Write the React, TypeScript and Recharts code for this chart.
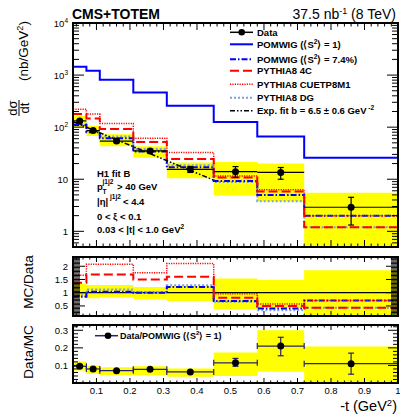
import React from 'react'
import { ComposedChart, Line, Area, Scatter, XAxis, YAxis, ErrorBar, ReferenceLine } from 'recharts'

const FONT = '"Liberation Sans", Arial, Helvetica, sans-serif'

// binning in -t (GeV^2)
const binEdges = [0.03, 0.07, 0.11, 0.21, 0.31, 0.45, 0.58, 0.72, 1.0]
const binCenters = [0.05, 0.09, 0.16, 0.26, 0.38, 0.515, 0.65, 0.86]

// dsigma/dt (nb/GeV^2)
const dataVal = [132, 86, 54, 35, 15.5, 14, 13.5, 2.9]
const dataErrLo = [8, 6, 3.5, 2.5, 2, 3.1, 3.5, 1.58]
const dataErrHi = [8, 6, 3.5, 2.5, 2, 3.5, 3.3, 1.6]
const sysLo = [100, 68, 43, 26, 10.4, 4.9, 3.8, 0.5]
const sysHi = [165, 106, 73, 43, 21, 21.5, 20, 5.5]

const pomwig1 = [1445, 1210, 813, 464, 257, 126, 66, 26]
const pomwig74 = [110, 80, 61, 34, 17, 9.3, 5.0, 2.0]
const py4c = [178, 147, 92, 52, 24.5, 10.8, 5.8, 1.2]
const pyCuet = [220, 178, 117, 61.5, 32.5, 11.6, 6.3, 2.0]
const pyDg = [116, 84, 66, 38, 18.6, 8.9, 3.8, 1.2]

const fitT = [0.03, 0.45]
const fitV = [128, 9.6]

// MC / Data
const r4c = [1.38, 1.69, 1.69, 1.5, 1.6, 0.81, 0.5, 0.43]
const rCuet = [1.66, 2.08, 2.08, 1.75, 2.1, 0.96, 0.57, 0.71]
const rPom = [0.85, 1.04, 1.04, 1.0, 1.22, 0.69, 0.4, 0.71]
const rDg = [0.9, 1.12, 1.12, 1.03, 1.28, 0.66, 0.34, 0.43]
const rBandLo = [0.85, 0.79, 0.82, 0.75, 0.69, 0.37, 0.41, 0.1]
const rBandHi = [1.35, 1.29, 1.29, 1.22, 1.25, 1.54, 1.48, 1.85]

// Data / POMWIG (<S2> = 1)
const dm = [0.095, 0.08, 0.07, 0.078, 0.063, 0.115, 0.21, 0.11]
const dmErrLo = [0.005, 0.005, 0.004, 0.004, 0.004, 0.02, 0.055, 0.06]
const dmErrHi = [0.005, 0.005, 0.004, 0.004, 0.004, 0.025, 0.05, 0.06]
const dmBandLo = [0.071, 0.053, 0.045, 0.044, 0.035, 0.04, 0.064, 0]
const dmBandHi = [0.122, 0.1, 0.089, 0.095, 0.082, 0.173, 0.3, 0.207]

// axis ticks
const xMajor = [0.1, 0.2, 0.3, 0.4, 0.5, 0.6, 0.7, 0.8, 0.9, 1.0]
const logMajor = [1, 10, 100, 1000, 10000]
const ratioMajor = [0.5, 1, 1.5, 2]
const dmMajor = [0.1, 0.2, 0.3]

const xMinor: number[] = []
for (let i = 2; i < 50; i++) {
  const v = Math.round(i * 2) / 100
  if (!xMajor.some((m) => Math.abs(m - v) < 1e-9)) xMinor.push(v)
}
const logMinor: number[] = []
for (const d of [0.1, 1, 10, 100, 1000]) {
  for (let m = 2; m <= 9; m++) {
    const v = m * d
    if (v >= 0.5 && v < 10000) logMinor.push(v)
  }
}
const ratioMinor: number[] = []
for (let i = 3; i <= 47; i++) {
  const v = i * 0.05
  if (!ratioMajor.some((m) => Math.abs(m - v) < 1e-6)) ratioMinor.push(v)
}
const dmMinor: number[] = []
for (let i = 1; i <= 16; i++) {
  const v = i * 0.02
  if (!dmMajor.some((m) => Math.abs(m - v) < 1e-6)) dmMinor.push(v)
}

const k = (i: number) => Math.min(i, 7)

const mainRows = binEdges.map((t, i) => ({
  t,
  band: [sysLo[k(i)], sysHi[k(i)]],
  pom1: pomwig1[k(i)],
  pom74: pomwig74[k(i)],
  c4: py4c[k(i)],
  cuet: pyCuet[k(i)],
  dg: pyDg[k(i)],
  fit: fitT.indexOf(t) >= 0 ? fitV[fitT.indexOf(t)] : null,
}))

const ratioRows = binEdges.map((t, i) => ({
  t,
  band: [rBandLo[k(i)], rBandHi[k(i)]],
  c4: r4c[k(i)],
  cuet: rCuet[k(i)],
  pom74: rPom[k(i)],
  dg: rDg[k(i)],
}))

const dmRows = binEdges.map((t, i) => ({
  t,
  band: [dmBandLo[k(i)], dmBandHi[k(i)]],
}))

const mainPoints = binCenters.map((t, i) => ({
  t,
  v: dataVal[i],
  ex: [t - binEdges[i], binEdges[i + 1] - t],
  ey: [dataErrLo[i], dataErrHi[i]],
}))

const dmPoints = binCenters.map((t, i) => ({
  t,
  v: dm[i],
  ex: [t - binEdges[i], binEdges[i + 1] - t],
  ey: [dmErrLo[i], dmErrHi[i]],
}))

type Side = 'left' | 'right' | 'top' | 'bottom'

function makeTick(
  side: Side,
  majors: number[],
  major: number,
  minor: number,
  label?: (v: number) => React.ReactNode
) {
  return (p: any) => {
    const v = p.payload.value
    const isMajor = majors.some((m) => Math.abs(m - v) < 1e-6)
    const len = isMajor ? major : minor
    const { x, y } = p
    let line
    if (side === 'left') line = <line x1={x} x2={x + len} y1={y} y2={y} stroke="#000" />
    else if (side === 'right') line = <line x1={x} x2={x - len} y1={y} y2={y} stroke="#000" />
    else if (side === 'bottom') line = <line x1={x} x2={x} y1={y} y2={y - len} stroke="#000" />
    else line = <line x1={x} x2={x} y1={y} y2={y + len} stroke="#000" />
    let text = null
    if (label && isMajor) {
      if (side === 'left')
        text = (
          <text x={x - 5} y={y + 3.5} textAnchor="end" fontSize={9.5} fill="#000" fontFamily={FONT}>
            {label(v)}
          </text>
        )
      else if (side === 'bottom')
        text = (
          <text x={x} y={y + 11} textAnchor="middle" fontSize={9.5} fill="#000" fontFamily={FONT}>
            {label(v)}
          </text>
        )
    }
    return (
      <g>
        {line}
        {text}
      </g>
    )
  }
}

const logLabel = (v: number) => {
  const e = Math.round(Math.log10(v))
  if (e === 0) return '1'
  if (e === 1) return '10'
  return (
    <>
      10<tspan dy={-4} fontSize={6.5}>{e}</tspan>
    </>
  )
}
const xLabel = (v: number) => (v === 1 ? '1' : v.toFixed(1))

const BLUE = '#0000ff'
const RED = '#ff0000'
const LIGHTBLUE = '#7a9fe0'
const YELLOW = '#ffff00'
const NAVY = '#23237a'

// the axes have a size of 1px (a 0px axis is not drawn), margins are reduced by it
function Axes({ yDomain, yScale, yMajor, yMinor, yLabel, yMaj, yMin, xLabels, xMaj, xMin }: any) {
  const yTicks = [...yMajor, ...yMinor]
  const xTicks = [...xMajor, ...xMinor]
  const common = {
    interval: 0 as const,
    axisLine: false,
    tickLine: false,
    tickSize: 0,
    tickMargin: 0,
    allowDataOverflow: true,
    type: 'number' as const,
  }
  return [
    <XAxis
      key="xb"
      dataKey="t"
      domain={[0.03, 1]}
      height={1}
      ticks={xTicks}
      tick={makeTick('bottom', xMajor, xMaj, xMin, xLabels ? xLabel : undefined)}
      {...common}
    />,
    <XAxis
      key="xt"
      xAxisId="top"
      orientation="top"
      dataKey="t"
      domain={[0.03, 1]}
      height={1}
      ticks={xTicks}
      tick={makeTick('top', xMajor, xMaj, xMin)}
      {...common}
    />,
    <YAxis
      key="yl"
      scale={yScale}
      domain={yDomain}
      width={1}
      ticks={yTicks}
      tick={makeTick('left', yMajor, yMaj, yMin, yLabel)}
      {...common}
    />,
    <YAxis
      key="yr"
      yAxisId="r"
      orientation="right"
      scale={yScale}
      domain={yDomain}
      width={1}
      ticks={yTicks}
      tick={makeTick('right', yMajor, yMaj, yMin)}
      {...common}
    />,
  ]
}

const dot = (r: number) => (p: any) => <circle cx={p.cx} cy={p.cy} r={r} fill="#000" />

const chartStyle: React.CSSProperties = { position: 'absolute', left: 0, top: 0 }

export default function App() {
  return (
    <div
      style={{
        position: 'fixed',
        left: 0,
        top: 0,
        width: 400,
        height: 417,
        background: '#fff',
        fontFamily: FONT,
      }}
    >
      {/* main panel */}
      <div style={chartStyle}>
        <ComposedChart
          width={400}
          height={417}
          data={mainRows}
          margin={{ top: 22, right: 1, bottom: 169, left: 72 }}
        >
          {Axes({
            yDomain: [0.5, 10000],
            yScale: 'log',
            yMajor: logMajor,
            yMinor: logMinor,
            yLabel: logLabel,
            yMaj: 11,
            yMin: 6,
            xLabels: false,
            xMaj: 7,
            xMin: 3.5,
          })}
          <Area dataKey="band" type="stepAfter" stroke="none" fill={YELLOW} fillOpacity={1} isAnimationActive={false} />
          <Line dataKey="pom1" type="stepAfter" stroke={BLUE} strokeWidth={2} dot={false} activeDot={false} isAnimationActive={false} />
          <Line dataKey="dg" type="stepAfter" stroke={LIGHTBLUE} strokeWidth={2} strokeDasharray="2 2" dot={false} activeDot={false} isAnimationActive={false} />
          <Line dataKey="pom74" type="stepAfter" stroke={BLUE} strokeWidth={2} strokeDasharray="6 2 1.5 2" dot={false} activeDot={false} isAnimationActive={false} />
          <Line dataKey="c4" type="stepAfter" stroke={RED} strokeWidth={2} strokeDasharray="9 4" dot={false} activeDot={false} isAnimationActive={false} />
          <Line dataKey="cuet" type="stepAfter" stroke={RED} strokeWidth={1.5} strokeDasharray="1.2 1.2" dot={false} activeDot={false} isAnimationActive={false} />
          <Line dataKey="fit" type="linear" connectNulls stroke="#000" strokeWidth={1.5} strokeDasharray="5 2 1.5 2 1.5 2" dot={false} activeDot={false} isAnimationActive={false} />
          <Scatter data={mainPoints} dataKey="v" shape={dot(3.5)} isAnimationActive={false}>
            <ErrorBar dataKey="ex" direction="x" width={0} stroke="#000" strokeWidth={1.2} isAnimationActive={false} />
            <ErrorBar dataKey="ey" direction="y" width={3} stroke="#000" strokeWidth={1.2} isAnimationActive={false} />
          </Scatter>
        </ComposedChart>
      </div>

      {/* MC / Data */}
      <div style={chartStyle}>
        <ComposedChart
          width={400}
          height={417}
          data={ratioRows}
          margin={{ top: 256, right: 1, bottom: 100, left: 72 }}
        >
          {Axes({
            yDomain: [0.12, 2.35],
            yScale: 'linear',
            yMajor: ratioMajor,
            yMinor: ratioMinor,
            yLabel: (v: number) => String(v),
            yMaj: 12,
            yMin: 7,
            xLabels: false,
            xMaj: 5,
            xMin: 2.5,
          })}
          <Area dataKey="band" type="stepAfter" stroke="none" fill={YELLOW} fillOpacity={1} isAnimationActive={false} />
          <ReferenceLine y={1} stroke="#000" strokeWidth={1.2} />
          <Line dataKey="dg" type="stepAfter" stroke={LIGHTBLUE} strokeWidth={2} strokeDasharray="2 2" dot={false} activeDot={false} isAnimationActive={false} />
          <Line dataKey="pom74" type="stepAfter" stroke={BLUE} strokeWidth={2} strokeDasharray="6 2 1.5 2" dot={false} activeDot={false} isAnimationActive={false} />
          <Line dataKey="c4" type="stepAfter" stroke={RED} strokeWidth={2} strokeDasharray="9 4" dot={false} activeDot={false} isAnimationActive={false} />
          <Line dataKey="cuet" type="stepAfter" stroke={RED} strokeWidth={1.5} strokeDasharray="1.2 1.2" dot={false} activeDot={false} isAnimationActive={false} />
        </ComposedChart>
      </div>

      {/* Data / MC */}
      <div style={chartStyle}>
        <ComposedChart
          width={400}
          height={417}
          data={dmRows}
          margin={{ top: 324, right: 1, bottom: 33, left: 72 }}
        >
          {Axes({
            yDomain: [0, 0.33],
            yScale: 'linear',
            yMajor: dmMajor,
            yMinor: dmMinor,
            yLabel: (v: number) => v.toFixed(1),
            yMaj: 10,
            yMin: 5,
            xLabels: true,
            xMaj: 5,
            xMin: 2.5,
          })}
          <Area dataKey="band" type="stepAfter" stroke="none" fill={YELLOW} fillOpacity={1} isAnimationActive={false} />
          <Scatter data={dmPoints} dataKey="v" shape={dot(3.5)} isAnimationActive={false}>
            <ErrorBar dataKey="ex" direction="x" width={3} stroke={NAVY} strokeWidth={1.2} isAnimationActive={false} />
            <ErrorBar dataKey="ey" direction="y" width={3} stroke={NAVY} strokeWidth={1.2} isAnimationActive={false} />
          </Scatter>
        </ComposedChart>
      </div>

      {/* frames, titles, legends */}
      <svg width={400} height={417} style={{ position: 'absolute', left: 0, top: 0, pointerEvents: 'none' }} fontFamily={FONT}>
        <rect x={73} y={23} width={325} height={224} fill="none" stroke="#000" strokeWidth={2} />
        <rect x={73} y={257} width={325} height={59} fill="none" stroke="#000" strokeWidth={2} />
        <rect x={73} y={325} width={325} height={58} fill="none" stroke="#000" strokeWidth={2} />

        <text x={72} y={19} fontSize={14} fontWeight="bold">CMS+TOTEM</text>
        <text x={396} y={19} fontSize={14} textAnchor="end">
          37.5 nb<tspan dy={-5} fontSize={9}>-1</tspan>
          <tspan dy={5}> (8 TeV)</tspan>
        </text>

        {/* y titles */}
        <g transform="translate(19,108) rotate(-90)">
          <text x={0} y={-2} fontSize={13} textAnchor="middle">dσ</text>
          <line x1={-8} x2={8} y1={0} y2={0} stroke="#000" strokeWidth={1} />
          <text x={0} y={9.5} fontSize={13} textAnchor="middle">dt</text>
          <text x={57} y={9} fontSize={13.5} textAnchor="middle">
            (nb/GeV<tspan dy={-5} fontSize={9}>2</tspan>
            <tspan dy={5}>)</tspan>
          </text>
        </g>
        <text transform="translate(33,282) rotate(-90)" fontSize={13.5} textAnchor="middle">MC/Data</text>
        <text transform="translate(33,352) rotate(-90)" fontSize={13.5} textAnchor="middle">Data/MC</text>
        <text x={397} y={411} fontSize={14.5} textAnchor="end">
          -t (GeV<tspan dy={-5} fontSize={9.5}>2</tspan>
          <tspan dy={5}>)</tspan>
        </text>

        {/* main legend */}
        <g fontSize={9.5} fontWeight="bold">
          <line x1={230} x2={253} y1={32.3} y2={32.3} stroke="#000" strokeWidth={1.5} />
          <circle cx={241.7} cy={32.3} r={3.3} fill="#000" />
          <text x={257} y={35.7}>Data</text>

          <line x1={230} x2={253} y1={44.3} y2={44.3} stroke={BLUE} strokeWidth={2} />
          <text x={257} y={47.7}>
            POMWIG (⟨S<tspan dy={-4} fontSize={6.5}>2</tspan>
            <tspan dy={4}>⟩ = 1)</tspan>
          </text>

          <line x1={230} x2={253} y1={59.3} y2={59.3} stroke={BLUE} strokeWidth={2} strokeDasharray="6 2 1.5 2" />
          <text x={257} y={62.7}>
            POMWIG (⟨S<tspan dy={-4} fontSize={6.5}>2</tspan>
            <tspan dy={4}>⟩ = 7.4%)</tspan>
          </text>

          <line x1={230} x2={253} y1={70.8} y2={70.8} stroke={RED} strokeWidth={2} strokeDasharray="9 4" />
          <text x={257} y={74.2}>PYTHIA8 4C</text>

          <line x1={230} x2={253} y1={84.2} y2={84.2} stroke={RED} strokeWidth={1.5} strokeDasharray="1.2 1.2" />
          <text x={257} y={87.6}>PYTHIA8 CUETP8M1</text>

          <line x1={230} x2={253} y1={97.8} y2={97.8} stroke={LIGHTBLUE} strokeWidth={2} strokeDasharray="2 2" />
          <text x={257} y={101.2}>PYTHIA8 DG</text>

          <line x1={230} x2={253} y1={110.8} y2={110.8} stroke="#000" strokeWidth={1.5} strokeDasharray="5 2 1.5 2 1.5 2" />
          <text x={257} y={114.2}>
            Exp. fit b = 6.5 ± 0.6 GeV<tspan dy={-4} fontSize={6.5}> -2</tspan>
          </text>
        </g>

        {/* selection text */}
        <g fontSize={9.5} fontWeight="bold">
          <text x={97} y={177}>H1 fit B</text>
          <text x={97} y={190}>p</text>
          <text x={102.5} y={184} fontSize={6.5}>j1j2</text>
          <text x={102.5} y={193.5} fontSize={6.5}>T</text>
          <text x={117} y={190}>&gt; 40 GeV</text>
          <text x={97} y={204.5}>|η|</text>
          <text x={110} y={198.5} fontSize={6.5}>j1j2</text>
          <text x={123} y={204.5}>&lt; 4.4</text>
          <text x={97} y={219.5}>0 &lt; ξ &lt; 0.1</text>
          <text x={97} y={232.5}>
            0.03 &lt; |t| &lt; 1.0 GeV<tspan dy={-4} fontSize={6.5}>2</tspan>
          </text>
        </g>

        {/* Data/MC legend */}
        <g fontSize={9} fontWeight="bold">
          <line x1={95} x2={118} y1={335.7} y2={335.7} stroke={NAVY} strokeWidth={1.5} />
          <circle cx={108} cy={335.7} r={3.3} fill="#000" />
          <text x={120} y={339}>
            Data/POMWIG (⟨S<tspan dy={-4} fontSize={6}>2</tspan>
            <tspan dy={4}>⟩ = 1)</tspan>
          </text>
        </g>
      </svg>
    </div>
  )
}
